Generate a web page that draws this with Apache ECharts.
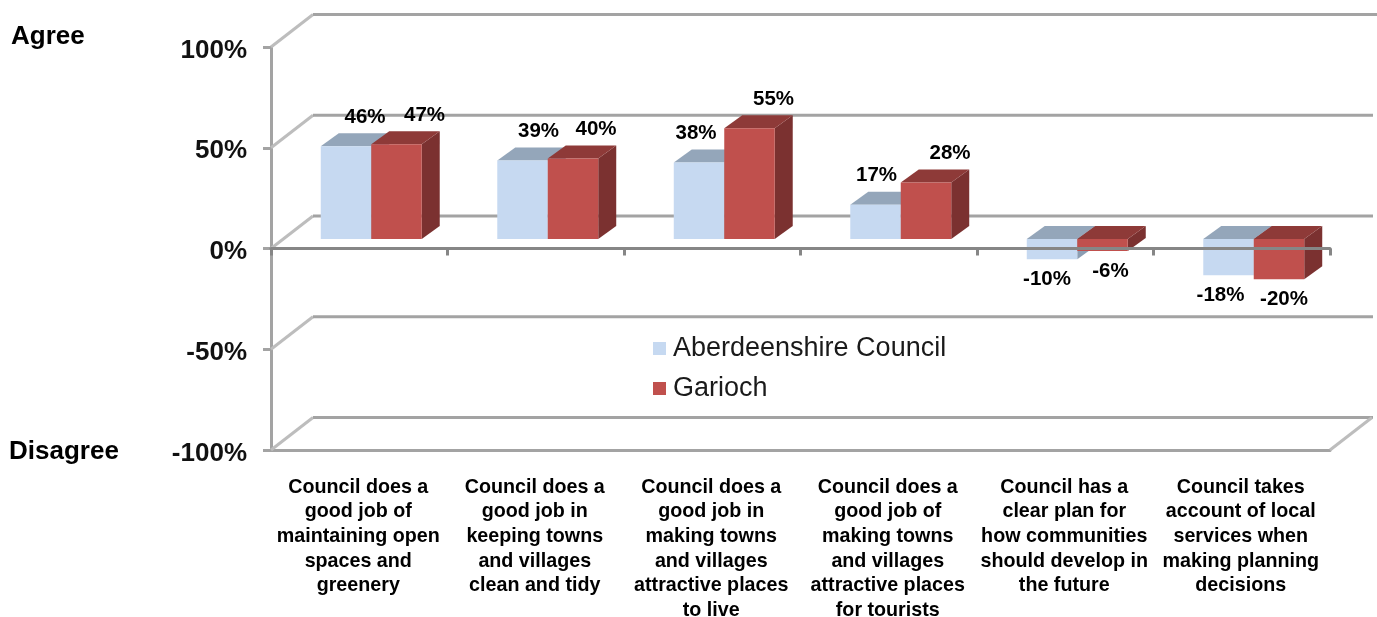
<!DOCTYPE html>
<html>
<head>
<meta charset="utf-8">
<script src="https://cdn.jsdelivr.net/npm/echarts@6/dist/echarts.min.js"></script>
<style>
html,body{margin:0;padding:0;background:#fff;overflow:hidden}
#c{width:1377px;height:617px;filter:blur(0.45px)}
</style>
</head>
<body>
<div id="c"></div>
<script>
const categories = [
  "Council does a\ngood job of\nmaintaining open\nspaces and\ngreenery",
  "Council does a\ngood job in\nkeeping towns\nand villages\nclean and tidy",
  "Council does a\ngood job in\nmaking towns\nand villages\nattractive places\nto live",
  "Council does a\ngood job of\nmaking towns\nand villages\nattractive places\nfor tourists",
  "Council has a\nclear plan for\nhow communities\nshould develop in\nthe future",
  "Council takes\naccount of local\nservices when\nmaking planning\ndecisions"
];
const aberdeenshire = [46, 39, 38, 17, -10, -18];
const garioch = [47, 40, 55, 28, -6, -20];
const wallTicks = [100, 50, 0, -50, -100];
const seriesNames = ["Aberdeenshire Council", "Garioch"];

// Presentation constants
const DEPTH_WALL = [42, -32.5];
const DEPTH_BAR = [18, -13];
const BAR_SHIFT = [12, -9.5];
const nudgeA = [19, 16, -3, 1, -5, -8];
const nudgeB = [28, 23, 24, 24, 8, 5];
const FONT = '"Liberation Sans", Arial, sans-serif';

function barRenderer(side, front, topC, sideC, nudge) {
  return function (params, api) {
    const i = api.value(0), v = api.value(1);
    const w = api.size([1, 0])[0] * 0.286;
    const c = api.coord([i, v]), z = api.coord([i, 0]);
    const cx = z[0] + BAR_SHIFT[0];
    const x0 = side === 0 ? cx - w : cx, x1 = x0 + w;
    const base = z[1] + BAR_SHIFT[1];
    const val = c[1] + BAR_SHIFT[1];
    const t = Math.min(base, val), b = Math.max(base, val);
    const dx = DEPTH_BAR[0], dy = DEPTH_BAR[1];
    const ly = v >= 0 ? t - 29 : b + 20.5;
    return {
      type: 'group',
      children: [
        { type: 'polygon', shape: { points: [[x1, t], [x1 + dx, t + dy], [x1 + dx, b + dy], [x1, b]] }, style: { fill: sideC } },
        { type: 'polygon', shape: { points: [[x0, t], [x0 + dx, t + dy], [x1 + dx, t + dy], [x1, t]] }, style: { fill: topC } },
        { type: 'rect', shape: { x: x0, y: t, width: w, height: b - t }, style: { fill: front } },
        { type: 'text', z2: 50, style: { text: v + '%', x: (x0 + x1) / 2 + nudge[i], y: ly, align: 'center', verticalAlign: 'middle', fill: '#000', font: 'bold 20.5px ' + FONT } }
      ]
    };
  };
}

function wallRenderer(params, api) {
  const v = api.value(1);
  const band = api.size([1, 0])[0];
  const l = api.coord([0, v]), r = api.coord([categories.length - 1, v]);
  const x0 = l[0] - band / 2, x1 = r[0] + band / 2, y = l[1];
  const bx = x0 + DEPTH_WALL[0], by = y + DEPTH_WALL[1];
  const kids = [
    { type: 'line', shape: { x1: x0, y1: y, x2: bx, y2: by }, style: { stroke: '#bdbdbd', lineWidth: 3 } },
    { type: 'line', shape: { x1: bx, y1: by, x2: x1 + DEPTH_WALL[0] + (v === 100 ? 5 : 1), y2: by }, style: { stroke: '#a3a3a3', lineWidth: 3 } }
  ];
  if (v === -100) {
    kids.push({ type: 'line', shape: { x1: x1, y1: y, x2: x1 + DEPTH_WALL[0], y2: by }, style: { stroke: '#bdbdbd', lineWidth: 3 } });
  }
  return { type: 'group', children: kids };
}

const chart = echarts.init(document.getElementById('c'), null, { renderer: 'canvas' });
chart.setOption({
  animation: false,
  backgroundColor: '#fff',
  grid: { left: 271, right: 47, top: 47, bottom: 167, outerBoundsMode: 'none', containLabel: false },
  legend: {
    show: true, orient: 'vertical', left: 653, top: 335, padding: 0, itemWidth: 13, itemHeight: 13, itemGap: 13, icon: 'rect',
    data: seriesNames, selectedMode: false,
    textStyle: { fontFamily: FONT, fontSize: 27, color: '#1a1a1a', padding: [0, 0, 0, 2] }
  },
  graphic: [
    { type: 'text', left: 11, top: 24, style: { text: 'Agree', fill: '#000', font: 'bold 26px ' + FONT } },
    { type: 'text', left: 9, top: 439, style: { text: 'Disagree', fill: '#000', font: 'bold 26px ' + FONT } }
  ],
  xAxis: [
    {
      type: 'category', data: categories, position: 'bottom',
      axisLine: { onZero: false, lineStyle: { color: '#a3a3a3', width: 3 } },
      axisTick: { show: false },
      axisLabel: { interval: 0, margin: 25, fontFamily: FONT, fontSize: 19.7, fontWeight: 'bold', color: '#000', lineHeight: 24.6, align: 'center', hideOverlap: false, padding: [0, 2, 0, 0] }
    },
    {
      type: 'category', data: categories, position: 'bottom', z: 20,
      axisLine: { onZero: true, onZeroAxisIndex: 0, lineStyle: { color: '#868686', width: 3 } },
      axisTick: { show: true, length: 7, lineStyle: { color: '#868686', width: 3 } },
      axisLabel: { show: false }
    }
  ],
  yAxis: {
    type: 'value', min: -100, max: 100, interval: 50,
    axisLine: { show: true, onZero: false, lineStyle: { color: '#a3a3a3', width: 3 } },
    axisTick: { show: true, length: 8, lineStyle: { color: '#a3a3a3', width: 3 } },
    splitLine: { show: false },
    axisLabel: {
      margin: 24, formatter: '{v|{value}%}',
      rich: { v: { fontFamily: FONT, fontSize: 26, fontWeight: 'bold', color: '#111', padding: [7, 0, 0, 0] } }
    }
  },
  series: [
    {
      type: 'custom', name: 'walls', z: 1, silent: true, renderItem: wallRenderer,
      encode: { x: 0, y: 1 }, data: wallTicks.map(v => [0, v])
    },
    {
      type: 'custom', name: seriesNames[0], z: 2, itemStyle: { color: '#c6d9f1' },
      renderItem: barRenderer(0, '#c6d9f1', '#94a6ba', '#8b9db2', nudgeA),
      encode: { x: 0, y: 1 }, data: aberdeenshire.map((v, i) => [i, v])
    },
    {
      type: 'custom', name: seriesNames[1], z: 3, itemStyle: { color: '#c0504d' },
      renderItem: barRenderer(1, '#c0504d', '#8e3a38', '#7b3130', nudgeB),
      encode: { x: 0, y: 1 }, data: garioch.map((v, i) => [i, v])
    }
  ]
});
</script>
</body>
</html>
